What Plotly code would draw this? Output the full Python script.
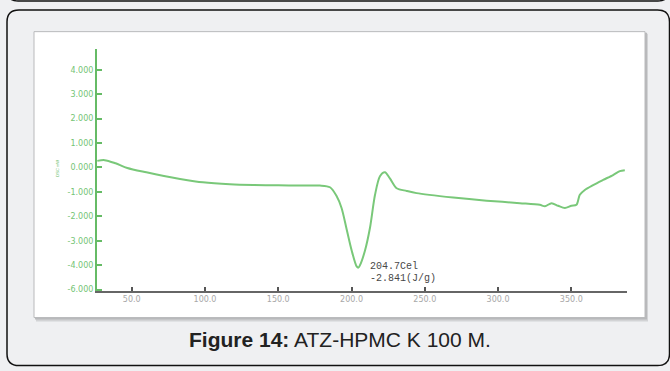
import plotly.graph_objects as go

# DSC thermogram of ATZ-HPMC K 100 M
temperature = [26.5, 31.5, 39, 47, 60, 72, 83, 98.6, 117, 133, 150, 165,
               178.4, 185.3, 189.8, 193.2, 196.7, 200.1, 203.5, 204.7, 205.7,
               209.2, 212.6, 216.0, 219.4, 222.8, 226.2, 230.8, 237.6, 244.4,
               269.4, 292.2, 314.9, 328.5, 332, 336.5, 341, 345.6, 350.1,
               353.5, 355.8, 359.2, 364.9, 371.7, 378.5, 383.1, 386.5]
heat_flow = [0.27, 0.30, 0.17, -0.02, -0.20, -0.35, -0.47, -0.61, -0.69, -0.72,
             -0.73, -0.74, -0.74, -0.81, -1.17, -1.66, -2.54, -3.40, -4.05,
             -4.10, -4.01, -3.40, -2.47, -1.13, -0.36, -0.20, -0.45, -0.85,
             -0.96, -1.05, -1.23, -1.36, -1.46, -1.53, -1.59, -1.46, -1.57,
             -1.66, -1.57, -1.53, -1.12, -0.92, -0.72, -0.51, -0.31, -0.15,
             -0.11]

x_tickvals = [50, 100, 150, 200, 250, 300, 350]
x_ticktext = ["50.0", "100.0", "150.0", "200.0", "250.0", "300.0", "350.0"]
y_tickvals = [4, 3, 2, 1, 0, -1, -2, -3, -4, -5]
y_ticktext = ["4.000", "3.000", "2.000", "1.000", "0.000", "-1.000",
              "-2.000", "-3.000", "-4.000", "-6.000"]

peak_label = ["204.7Cel", "-2.841(J/g)"]
caption = "<b>Figure 14:</b> ATZ-HPMC K 100 M."

W, H = 670, 371


def px(x):
    return x / W


def py(y):
    return 1 - y / H


green = "#66bb66"

fig = go.Figure()
fig.add_trace(go.Scatter(
    x=temperature, y=heat_flow, mode="lines",
    line=dict(color="#79c879", width=2, shape="spline", smoothing=0.8),
    hoverinfo="skip", showlegend=False,
))

# page frame: bottom edge of the box above, rounded figure box, white chart panel
r = 12
box_l, box_t, box_r, box_b = 7, 10, 669.5, 369.5
box_path = (
    f"M {px(box_l)},{py(box_t + r)} Q {px(box_l)},{py(box_t)} {px(box_l + r)},{py(box_t)} "
    f"L {px(box_r - r)},{py(box_t)} Q {px(box_r)},{py(box_t)} {px(box_r)},{py(box_t + r)} "
    f"L {px(box_r)},{py(box_b - r)} Q {px(box_r)},{py(box_b)} {px(box_r - r)},{py(box_b)} "
    f"L {px(box_l + r)},{py(box_b)} Q {px(box_l)},{py(box_b)} {px(box_l)},{py(box_b - r)} Z"
)
top_path = (
    f"M {px(7)},{py(-10)} Q {px(7)},{py(1)} {px(18)},{py(1)} "
    f"L {px(658)},{py(1)} Q {px(669)},{py(1)} {px(669)},{py(-10)}"
)

shapes = [
    dict(type="path", path=box_path, xref="paper", yref="paper",
         line=dict(color="#111111", width=1.5), fillcolor="#eff0f2", layer="below"),
    dict(type="path", path=top_path, xref="paper", yref="paper",
         line=dict(color="#111111", width=1.5), layer="below"),
    # panel shadow
    dict(type="rect", xref="paper", yref="paper",
         x0=px(36), x1=px(648), y0=py(325), y1=py(34),
         line=dict(width=0), fillcolor="#d2d3d5", layer="below"),
    dict(type="rect", xref="paper", yref="paper",
         x0=px(35), x1=px(647), y0=py(323), y1=py(33),
         line=dict(width=0), fillcolor="#b8b9bb", layer="below"),
    dict(type="rect", xref="paper", yref="paper",
         x0=px(34), x1=px(645), y0=py(321), y1=py(32),
         line=dict(color="#b9babc", width=1), fillcolor="#ffffff", layer="below"),
]

label_font = dict(family="Liberation Mono", size=10, color="#484848")
annotations = [
    dict(x=211.3, y=-4.04, text=peak_label[0], showarrow=False, xanchor="left",
         yanchor="middle", font=label_font),
    dict(x=211.3, y=-4.54, text=peak_label[1], showarrow=False, xanchor="left",
         yanchor="middle", font=label_font),
    dict(x=px(53), y=py(170), xref="paper", yref="paper", text="DSC mW",
         showarrow=False, textangle=-90,
         font=dict(family="Liberation Sans", size=4, color=green)),
    dict(x=px(340), y=py(343), xref="paper", yref="paper", text=caption,
         showarrow=False, xanchor="center", yanchor="middle",
         font=dict(family="Liberation Sans", size=21, color="#222222")),
]

fig.update_layout(
    width=W, height=H, margin=dict(l=0, r=0, t=0, b=0),
    paper_bgcolor="#eff0f2", plot_bgcolor="rgba(0,0,0,0)",
    shapes=shapes, annotations=annotations,
    xaxis=dict(
        domain=[px(97), px(627)], range=[26.3, 388],
        tickvals=x_tickvals, ticktext=x_ticktext,
        showgrid=False, zeroline=False,
        showline=True, linecolor="#666666", linewidth=1.5,
        ticks="inside", ticklen=4, tickwidth=1.5, tickcolor="#555555",
        tickfont=dict(family="DejaVu Sans", size=8, color="#a8a8a8"),
    ),
    yaxis=dict(
        domain=[py(294), py(50)], range=[-5.05, 4.83],
        tickvals=y_tickvals, ticktext=y_ticktext,
        showgrid=False, zeroline=False,
        showline=True, linecolor=green, linewidth=2,
        ticks="inside", ticklen=5, tickwidth=1.5, tickcolor=green,
        tickfont=dict(family="DejaVu Sans", size=8, color="#74c474"),
    ),
)

fig.write_html("out.html")
